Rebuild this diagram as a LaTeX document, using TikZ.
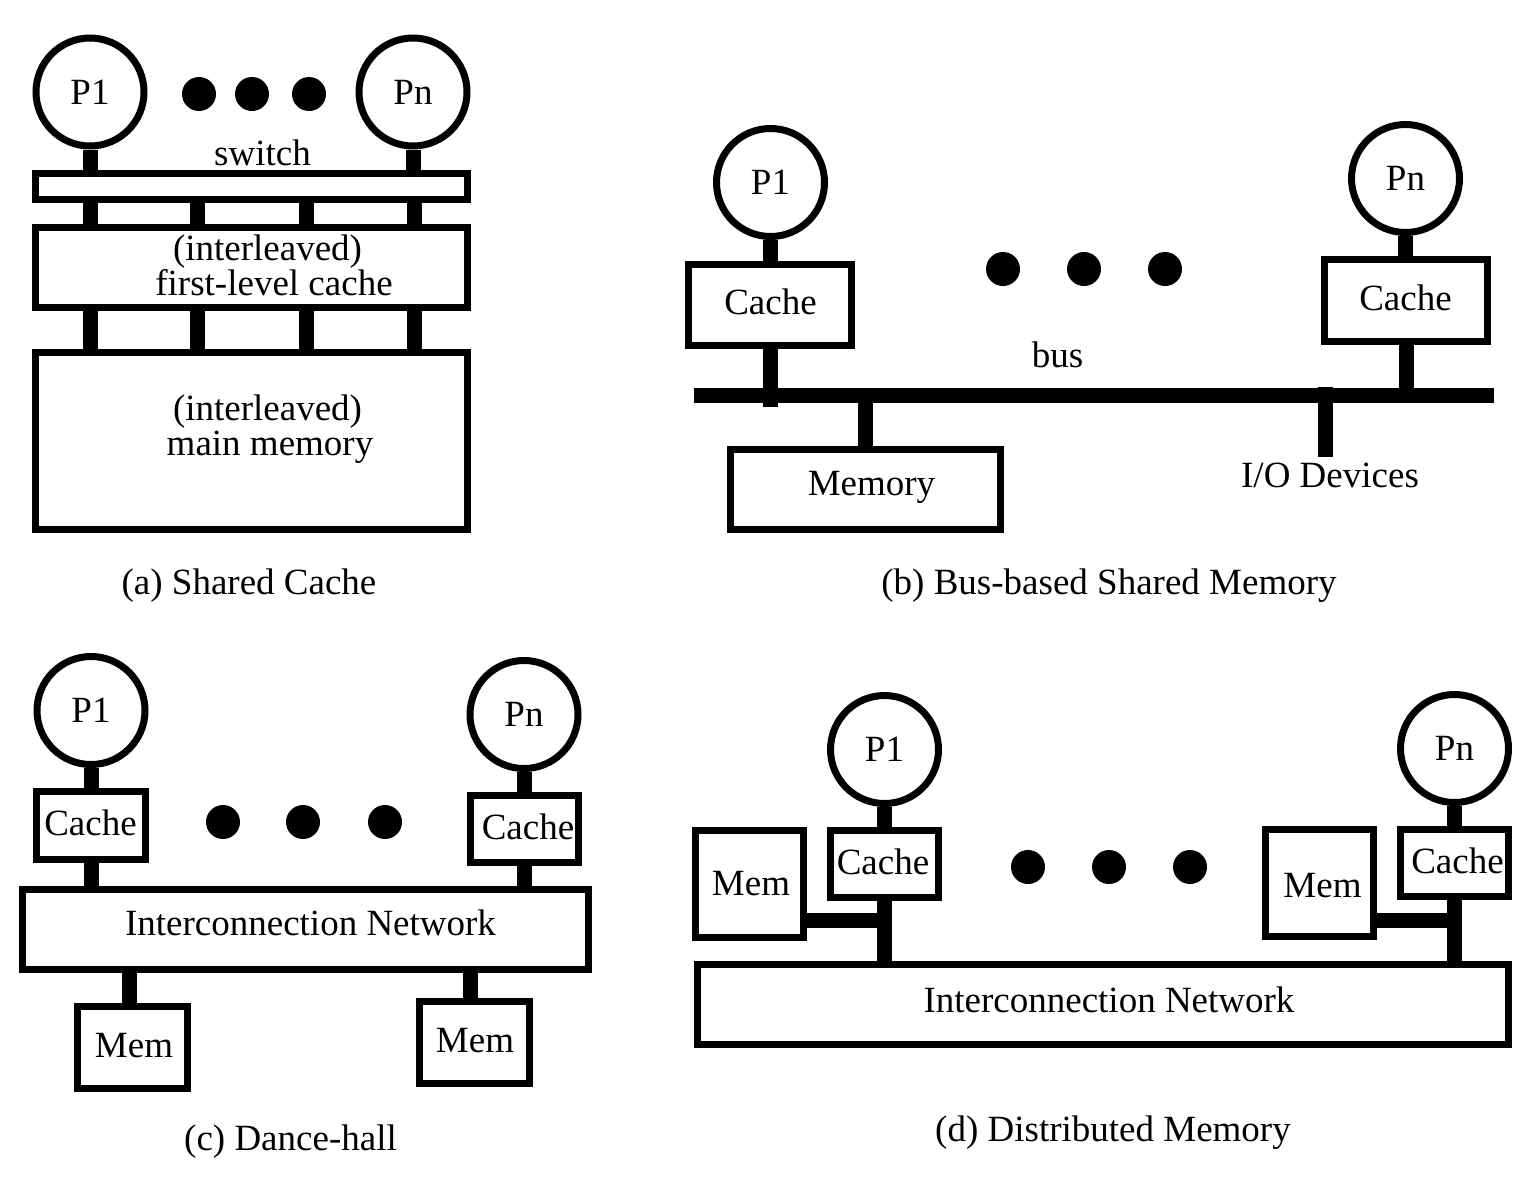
\documentclass[tikz,border=0pt]{standalone}
\usepackage{fontspec}
\setmainfont{Liberation Serif}
\begin{document}
\begin{tikzpicture}[x=1pt,y=-1pt,
  font=\fontsize{37}{40}\selectfont,
  box/.style={draw, line width=7pt, rectangle, inner sep=0pt},
  proc/.style={draw, line width=7pt, circle, inner sep=0pt, minimum size=108pt},
  conn/.style={line width=15pt},
  dotn/.style={fill, circle, inner sep=0pt, minimum size=34pt},
  lbl/.style={anchor=base, inner sep=0pt}]
\useasboundingbox (0,0) rectangle (1534,1186);

% ---------------- (a) Shared Cache ----------------
\node[proc] (p1a) at (90,92) {P1};
\node[proc] (pna) at (413,92) {Pn};
\node[dotn] (da1) at (199,94) {};
\node[dotn] (da2) at (252,94) {};
\node[dotn] (da3) at (309,94) {};
\node[box, minimum width=432pt, minimum height=26pt] (sw) at (251.5,186.5) {};
\node[box, minimum width=432pt, minimum height=80pt] (ca) at (251.5,267.5) {};
\node[box, minimum width=432pt, minimum height=177pt] (ma) at (251.5,441) {};
\node[lbl] (tsw) at (262.5,165) {switch};
\node[lbl] (tca1) at (267.5,260) {(interleaved)};
\node[lbl] (tca2) at (274,295) {first-level cache};
\node[lbl] (tma1) at (267.5,420) {(interleaved)};
\node[lbl] (tma2) at (270,455) {main memory};
\node[lbl] (capa) at (249,594) {(a) Shared Cache};
\coordinate (xa1) at (90,0);
\coordinate (xa2) at (197,0);
\coordinate (xa3) at (306,0);
\coordinate (xa4) at (414,0);
\draw[conn] (p1a.south) -- (sw.north -| p1a.south);
\draw[conn] (pna.south) -- (sw.north -| pna.south);
\foreach \c in {xa1,xa2,xa3,xa4}{
  \draw[conn] (sw.south -| \c) -- (ca.north -| \c);
  \draw[conn] (ca.south -| \c) -- (ma.north -| \c);
}

% ---------------- (b) Bus-based Shared Memory ----------------
\node[proc] (p1b) at (770.5,182.5) {P1};
\node[proc] (pnb) at (1405.5,178.5) {Pn};
\node[dotn] (db1) at (1003,269) {};
\node[dotn] (db2) at (1084,269) {};
\node[dotn] (db3) at (1165,269) {};
\node[box, minimum width=163pt, minimum height=81pt] (cb1) at (770,305) {};
\node[box, minimum width=163pt, minimum height=82pt] (cbn) at (1406,300.5) {};
\node[box, minimum width=270pt, minimum height=80pt] (mb) at (865.5,489.5) {};
\node[lbl] (tcb1) at (770.5,314) {Cache};
\node[lbl] (tcbn) at (1405.5,310) {Cache};
\node[lbl] (tmb) at (871.5,495) {Memory};
\node[lbl] (tbus) at (1057.5,367) {bus};
\node[lbl] (tio) at (1330,487) {I/O Devices};
\node[lbl] (capb) at (1109,594) {(b) Bus-based Shared Memory};
\coordinate (busL) at (694,395.5);
\coordinate (busR) at (1494,395.5);
\coordinate (b1end) at (770,407);
\coordinate (bnend) at (1406,403);
\coordinate (iotop) at (1325,387);
\coordinate (iobot) at (1325,457);
\draw[conn] (busL) -- (busR);
\draw[conn] (p1b.south) -- (cb1.north -| p1b.south);
\draw[conn] (cb1.south) -- (b1end);
\draw[conn] (pnb.south) -- (cbn.north -| pnb.south);
\draw[conn] (cbn.south) -- (bnend);
\draw[conn] (busL -| mb.north) -- (mb.north);
\draw[conn] (iotop) -- (iobot);

% ---------------- (c) Dance-hall ----------------
\node[proc] (p1c) at (91,710.5) {P1};
\node[proc] (pnc) at (524,714.5) {Pn};
\node[dotn] (dc1) at (223,822) {};
\node[dotn] (dc2) at (303,822) {};
\node[dotn] (dc3) at (385,822) {};
\node[box, minimum width=109pt, minimum height=68pt] (cc1) at (91,825.5) {};
\node[box, minimum width=108pt, minimum height=67pt] (ccn) at (524.5,829) {};
\node[box, minimum width=566pt, minimum height=80pt] (nc) at (305.5,929.5) {};
\node[box, minimum width=110pt, minimum height=82pt] (mc1) at (132.5,1047.5) {};
\node[box, minimum width=110pt, minimum height=82pt] (mcn) at (474.5,1042.5) {};
\node[lbl] (tcc1) at (90.5,835) {Cache};
\node[lbl] (tccn) at (528,839) {Cache};
\node[lbl] (tnc) at (310.5,935) {Interconnection Network};
\node[lbl] (tmc1) at (134,1057) {Mem};
\node[lbl] (tmcn) at (475,1052) {Mem};
\node[lbl] (capc) at (290.5,1150) {(c) Dance-hall};
\coordinate (xc1) at (129,0);
\coordinate (xc2) at (470,0);
\draw[conn] (p1c.south) -- (cc1.north -| p1c.south);
\draw[conn] (cc1.south -| p1c.south) -- (nc.north -| p1c.south);
\draw[conn] (pnc.south) -- (ccn.north -| pnc.south);
\draw[conn] (ccn.south -| pnc.south) -- (nc.north -| pnc.south);
\draw[conn] (nc.south -| xc1) -- (mc1.north -| xc1);
\draw[conn] (nc.south -| xc2) -- (mcn.north -| xc2);

% ---------------- (d) Distributed Memory ----------------
\node[proc] (p1d) at (884.5,749.5) {P1};
\node[proc] (pnd) at (1454.5,748.5) {Pn};
\node[dotn] (dd1) at (1028,867) {};
\node[dotn] (dd2) at (1109,867) {};
\node[dotn] (dd3) at (1190,867) {};
\node[box, minimum width=108pt, minimum height=67pt] (cd1) at (884.5,864) {};
\node[box, minimum width=108pt, minimum height=67pt] (cdn) at (1454.5,863) {};
\node[box, minimum width=108pt, minimum height=107pt] (md1) at (749.5,884) {};
\node[box, minimum width=108pt, minimum height=107pt] (mdn) at (1319.5,883) {};
\node[box, minimum width=811pt, minimum height=80pt] (nd) at (1103,1004.5) {};
\node[lbl] (tcd1) at (883,874) {Cache};
\node[lbl] (tcdn) at (1457.5,873) {Cache};
\node[lbl] (tmd1) at (751,895) {Mem};
\node[lbl] (tmdn) at (1322.5,897) {Mem};
\node[lbl] (tnd) at (1109,1012) {Interconnection Network};
\node[lbl] (capd) at (1113,1141) {(d) Distributed Memory};
\coordinate (jd1) at (884.5,920.5);
\coordinate (jdn) at (1454.5,920.5);
\draw[conn] (p1d.south) -- (cd1.north);
\draw[conn] (cd1.south) -- (nd.north -| cd1.south);
\draw[conn] (md1.east |- jd1) -- (jd1);
\draw[conn] (pnd.south) -- (cdn.north);
\draw[conn] (cdn.south) -- (nd.north -| cdn.south);
\draw[conn] (mdn.east |- jdn) -- (jdn);
\end{tikzpicture}
\end{document}
